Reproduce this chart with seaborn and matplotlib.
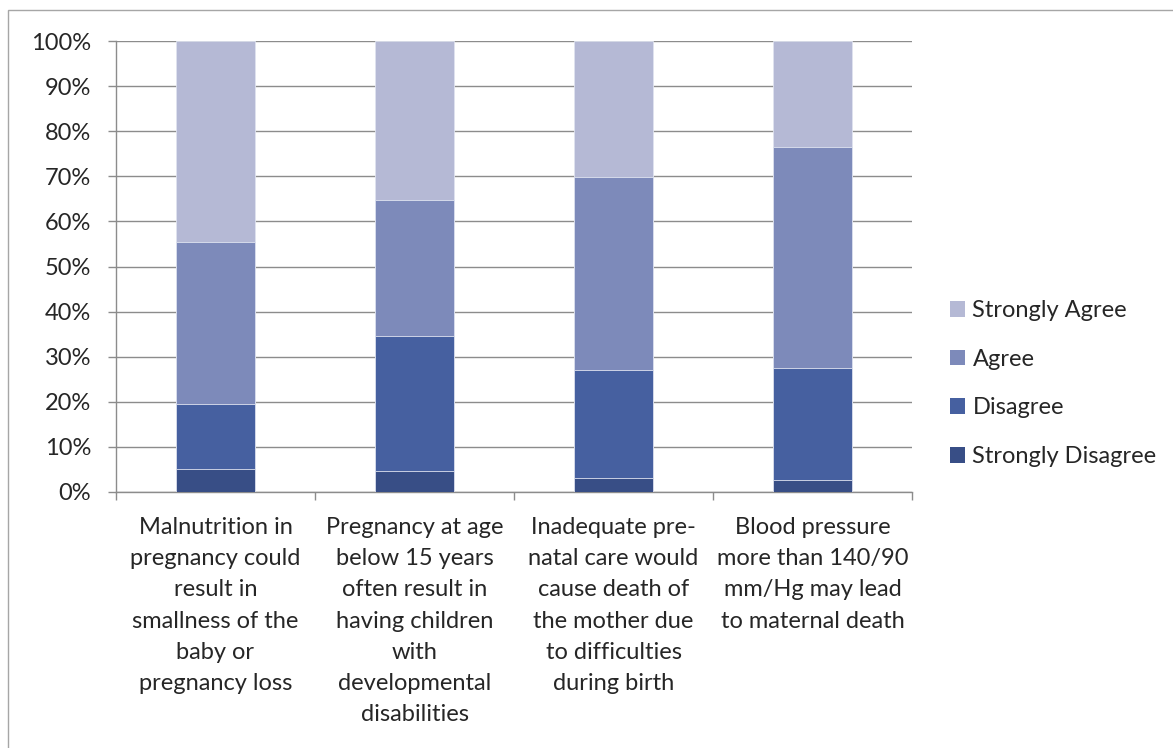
import matplotlib
matplotlib.use('Agg')
import matplotlib.pyplot as plt
import seaborn as sns
import pandas as pd
from matplotlib.patches import Patch, Rectangle
from matplotlib.ticker import FixedLocator, PercentFormatter

# ------------------------------------------------------------
# Data (percent of respondents per statement)
# ------------------------------------------------------------
statements = [
    "Malnutrition in\npregnancy could\nresult in\nsmallness of the\nbaby or\npregnancy loss",
    "Pregnancy at age\nbelow 15 years\noften result in\nhaving children\nwith\ndevelopmental\ndisabilities",
    "Inadequate pre-\nnatal care would\ncause death of\nthe mother due\nto difficulties\nduring birth",
    "Blood pressure\nmore than 140/90\nmm/Hg may lead\nto maternal death",
]
strongly_disagree = [5.1, 4.6, 3.0, 2.6]
disagree = [14.5, 30.1, 24.0, 24.9]
agree = [35.9, 30.1, 42.9, 49.1]
strongly_agree = [44.5, 35.2, 30.1, 23.4]

levels = ["Strongly Disagree", "Disagree", "Agree", "Strongly Agree"]
colors = ["#384e86", "#4660a0", "#7d8aba", "#b5b9d5"]

df = pd.DataFrame({
    "statement": statements,
    "Strongly Disagree": strongly_disagree,
    "Disagree": disagree,
    "Agree": agree,
    "Strongly Agree": strongly_agree,
})
cum = df[levels].cumsum(axis=1)

sns.set_style("white")
plt.rcParams['font.family'] = ['Lato', 'DejaVu Sans']
FS = 17

fig = plt.figure(figsize=(11.73, 7.48), dpi=100)
ax = fig.add_axes([116 / 1173, 1 - 492 / 748, (912 - 116) / 1173, (492 - 41) / 748])

# stacked bars: draw cumulative totals from the top segment down
for lvl, col in zip(levels[::-1], colors[::-1]):
    sns.barplot(x=df["statement"], y=cum[lvl], color=col, width=0.4,
                saturation=1, edgecolor="#dfe3f0", linewidth=0.6,
                ax=ax, zorder=3)

ax.set_ylim(0, 100)
ax.set_xlim(-0.5, 3.5)
ax.yaxis.set_major_locator(FixedLocator(range(0, 101, 10)))
ax.yaxis.set_major_formatter(PercentFormatter(decimals=0))
ax.grid(axis="y", color="#8c8c8c", linewidth=1.0, zorder=0)
ax.set_axisbelow(True)
ax.set_xlabel("")
ax.set_ylabel("")

for side in ["top", "right"]:
    ax.spines[side].set_visible(False)
for side in ["left", "bottom"]:
    ax.spines[side].set_color("#8c8c8c")
    ax.spines[side].set_linewidth(1.0)

ax.tick_params(axis="y", which="major", left=True, length=6, width=1,
               color="#8c8c8c", pad=12, labelsize=FS)
ax.xaxis.set_minor_locator(FixedLocator([-0.5, 0.5, 1.5, 2.5, 3.5]))
ax.tick_params(axis="x", which="minor", bottom=True, length=6, width=1,
               color="#8c8c8c")
ax.tick_params(axis="x", which="major", bottom=False, length=0, pad=18,
               labelsize=FS)
for lab in ax.get_xticklabels():
    lab.set_linespacing(1.6)
    lab.set_horizontalalignment("center")

handles = [Patch(facecolor=c, edgecolor="none") for c in colors[::-1]]
fig.legend(handles, levels[::-1], loc="center left",
           bbox_to_anchor=(950 / 1173, 1 - 383.5 / 748), frameon=False,
           fontsize=FS, handlelength=0.65, handleheight=0.65,
           handletextpad=0.3, labelspacing=1.17, borderpad=0,
           borderaxespad=0)

# outer chart border (Excel style)
fig.patches.append(Rectangle((8 / 1173, -0.01), 1.02, 1 - 10 / 748 + 0.01,
                             transform=fig.transFigure, fill=False,
                             edgecolor="#a6a6a6", linewidth=1.0))

plt.savefig("out.png", dpi=100)
plt.close()
